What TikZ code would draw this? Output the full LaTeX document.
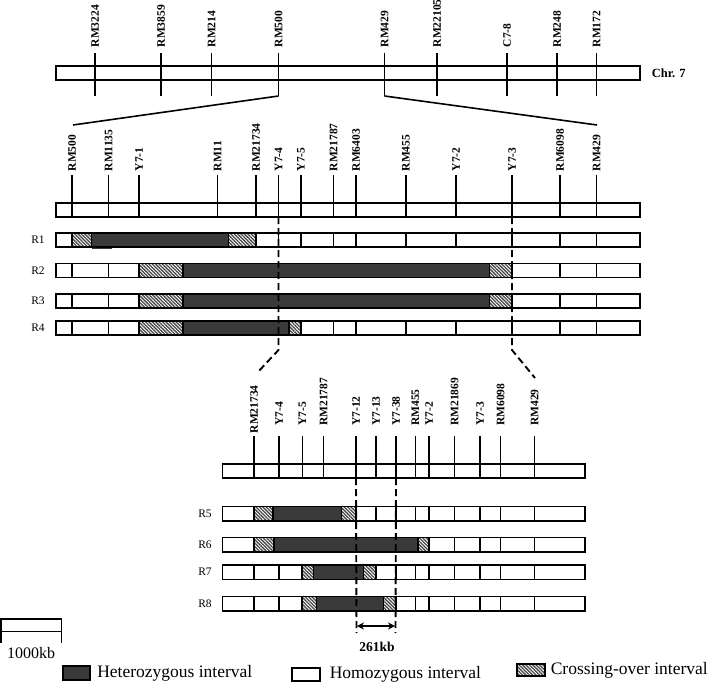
\documentclass[tikz,border=0pt]{standalone}
\usepackage{fontspec}
\setmainfont{Liberation Serif}
\usetikzlibrary{patterns.meta,arrows.meta}
\definecolor{hetgray}{RGB}{58,58,58}
\definecolor{hatchgray}{RGB}{70,70,70}
\tikzset{
  chrmap/.style={x=1pt,y=-1pt,line width=1.6pt},
  mlabel/.style={rotate=90,anchor=west,inner sep=0pt,font=\fontsize{11.5}{12}\selectfont\bfseries},
  rlabel/.style={inner sep=0pt,font=\fontsize{11.5}{12}\selectfont},
  leglabel/.style={anchor=west,inner sep=0pt,font=\fontsize{17.5}{18}\selectfont},
  homo/.style={draw,fill=white},
  het/.style={draw,fill=hetgray},
  cross/.style={draw,preaction={fill=white},pattern={Lines[angle=-45,distance=2.4pt,line width=1.3pt]},pattern color=hatchgray},
  cut/.style={line width=1.9pt,dash pattern=on 7pt off 4pt},
}

\begin{document}
\begin{tikzpicture}[chrmap]
  \useasboundingbox (0,0) rectangle (709,682);
  % chromosome 7
  \draw (56,66) rectangle (640,80);
  \foreach \x/\m in {95/RM3224,161/RM3859,211.5/RM214,278.5/RM500,384.5/RM429,437/RM22105,507/C7-8,557/RM248,596.5/RM172}{
    \draw (\x,53) -- (\x,96) coordinate (t-\m);
    \node[mlabel] (tl-\m) at (\x,48) {\m};
  }
  \node[anchor=west,inner sep=0pt,font=\fontsize{12.5}{13}\selectfont\bfseries] (chr) at (651,73.5) {Chr. 7};
  \coordinate (z-l) at (73,125);
  \coordinate (z-r) at (597,125);
  \draw (t-RM500) -- (z-l);
  \draw (t-RM429) -- (z-r);

  % fine map, R1--R4
  \draw (56,203) rectangle (640,217);
  \foreach \x/\m in {72/RM500,108.5/RM1135,139/Y7-1,217.5/RM11,256/RM21734,278.5/Y7-4,301/Y7-5,333.5/RM21787,356/RM6403,406/RM455,456/Y7-2,512/Y7-3,560/RM6098,596.5/RM429}{
    \draw (\x,175) -- (\x,217) coordinate (m-\m);
    \node[mlabel] (ml-\m) at (\x,172) {\m};
  }
  \foreach \y/\r in {233/R1,263.5/R2,294/R3,321/R4}{
    \draw[homo] (56,\y) rectangle (640,\y+14);
    \foreach \x in {72,108.5,139,217.5,256,278.5,301,333.5,356,406,456,512,560,596.5}
      \draw (\x,\y) -- (\x,\y+14);
    \node[rlabel] (\r) at (38,\y+7) {\r};
  }
  \draw[hetgray,line width=1.5pt] (92,248.6) -- (112,248.6);
  \draw[cross] (72,233) rectangle (91.5,247);
  \draw[het] (91.5,233) rectangle (228.5,247);
  \draw[cross] (228.5,233) rectangle (256,247);
  \foreach \y in {263.5,294}{
    \draw[cross] (139,\y) rectangle (183,\y+14);
    \draw[het] (183,\y) rectangle (489.5,\y+14);
    \draw[cross] (489.5,\y) rectangle (512,\y+14);
  }
  \draw[cross] (139,321) rectangle (183,335);
  \draw[het] (183,321) rectangle (289,335);
  \draw[cross] (289,321) rectangle (301,335);

  % finer map, R5--R8
  \draw (222.5,464) rectangle (585,478);
  \foreach \x/\m/\b in {254/RM21734/434,279/Y7-4/426.5,302.5/Y7-5/426.5,323.5/RM21787/426.5,356/Y7-12/426.5,376/Y7-13/426.5,396/Y7-38/426.5,415.5/RM455/426.5,429/Y7-2/426.5,454.5/RM21869/426.5,480/Y7-3/426.5,500.5/RM6098/426.5,534.5/RM429/426.5}{
    \draw (\x,436) -- (\x,478) coordinate (b-\m);
    \node[mlabel] (bl-\m) at (\x,\b) {\m};
  }
  \foreach \y/\r in {506.5/R5,537.5/R6,565/R7,596.5/R8}{
    \draw[homo] (222.5,\y) rectangle (585,\y+14.5);
    \foreach \x in {254,279,302.5,323.5,356,376,396,415.5,429,454.5,480,500.5,534.5}
      \draw (\x,\y) -- (\x,\y+14.5);
    \node[rlabel] (\r) at (205,\y+7) {\r};
  }
  \draw[cross] (254,506.5) rectangle (273,521);
  \draw[het] (273,506.5) rectangle (341.5,521);
  \draw[cross] (341.5,506.5) rectangle (356,521);
  \draw[cross] (254,537.5) rectangle (274,552);
  \draw[het] (274,537.5) rectangle (418,552);
  \draw[cross] (418,537.5) rectangle (429,552);
  \draw[cross] (302,565) rectangle (313.5,579.5);
  \draw[het] (313.5,565) rectangle (363.5,579.5);
  \draw[cross] (363.5,565) rectangle (376,579.5);
  \draw[cross] (302,596.5) rectangle (316.5,611);
  \draw[het] (316.5,596.5) rectangle (383.5,611);
  \draw[cross] (383.5,596.5) rectangle (396,611);

  % cut lines
  \coordinate (k-l) at (278.5,350);
  \coordinate (k-r) at (512,350);
  \coordinate (e-l) at (257,373);
  \coordinate (e-r) at (535,378);
  \draw[cut] (m-Y7-4) -- (k-l) -- (e-l);
  \draw[cut] (m-Y7-3) -- (k-r) -- (e-r);
  \coordinate (d-l) at (356.5,633);
  \coordinate (d-r) at (395.5,633);
  \draw[cut] (b-Y7-12) -- (d-l);
  \draw[cut] (b-Y7-38) -- (d-r);
  \coordinate (a-l) at (357,626);
  \coordinate (a-r) at (395,626);
  \draw[{Stealth[length=7pt,width=7pt]}-{Stealth[length=7pt,width=7pt]},line width=1.7pt] (a-l) -- (a-r);
  \node[inner sep=0pt,font=\fontsize{13.5}{14}\selectfont\bfseries] (gap) at (377,647) {261kb};

  % scale bar
  \draw (0.8,619) rectangle (61.5,631.5);
  \draw (0.8,631.5) -- (0.8,643);
  \draw (61.5,631.5) -- (61.5,643);
  \node[inner sep=0pt,font=\fontsize{16}{17}\selectfont] (kb) at (31,653) {1000kb};

  % legend
  \draw[het] (63,666) rectangle (90,680);
  \node[leglabel] (lhet) at (96.5,673) {Heterozygous interval};
  \draw[homo] (292,668) rectangle (320,681);
  \node[leglabel] (lhomo) at (329,674) {Homozygous interval};
  \draw[cross] (517,664) rectangle (545,676);
  \node[leglabel] (lcross) at (550,670) {Crossing-over interval};
\end{tikzpicture}
\end{document}
